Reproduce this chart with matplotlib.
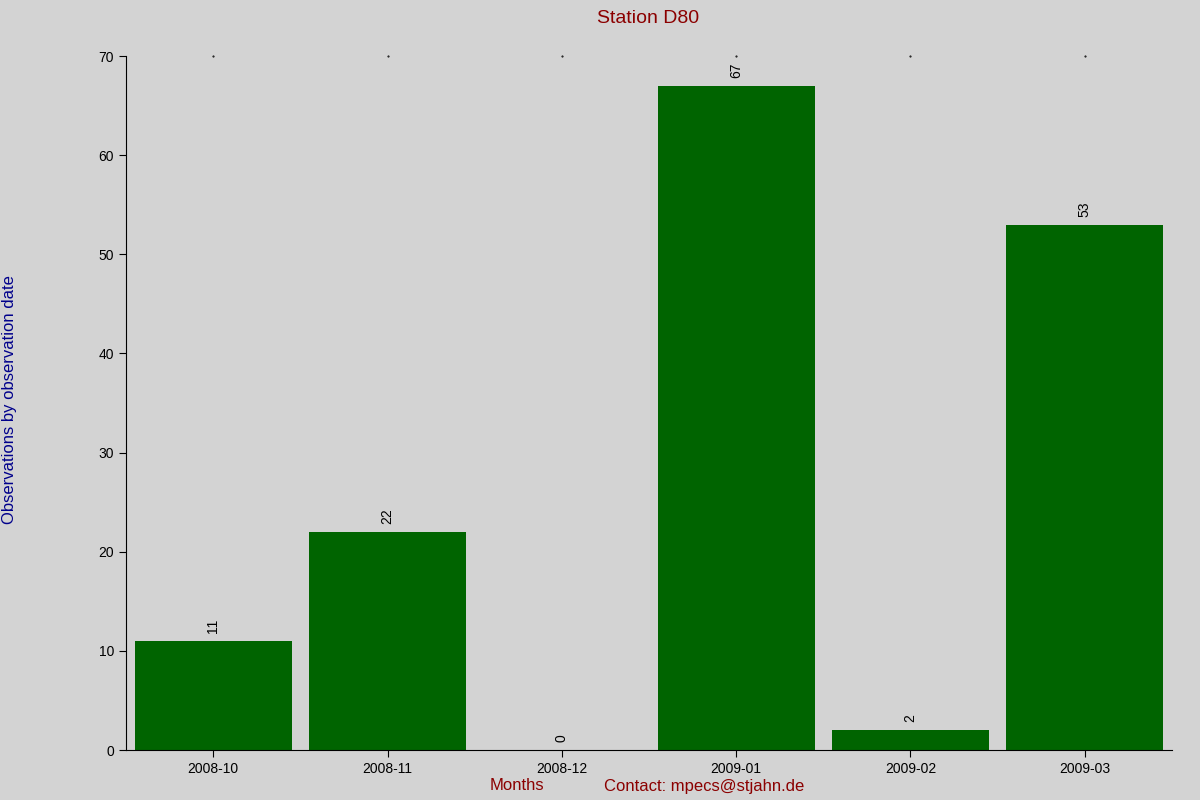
import matplotlib
matplotlib.use("Agg")
import matplotlib.pyplot as plt

months = ["2008-10", "2008-11", "2008-12", "2009-01", "2009-02", "2009-03"]
counts = [11, 22, 0, 67, 2, 53]

plt.rcParams['font.family'] = ['Liberation Sans', 'DejaVu Sans']
bg = "#d3d3d3"
fig = plt.figure(figsize=(12, 8), dpi=100, facecolor=bg)
ax = fig.add_axes([126/1200, 50/800, (1172-126)/1200, (750-56)/800], facecolor=bg)
x = list(range(len(months)))
bars = ax.bar(x, counts, width=0.9, color="#006400")
for xi, v in zip(x, counts):
    ax.text(xi, v + 0.8, str(v), rotation=90, ha="center", va="bottom", fontsize=10)
ax.set_xlim(-0.5, len(months) - 0.5)
ax.set_ylim(0, 70)
ax.set_yticks(range(0, 71, 10))
ax.set_xticks(x)
ax.set_xticklabels(months)
ax.tick_params(labelsize=10, length=5)
for s in ["top", "right"]:
    ax.spines[s].set_visible(False)
for xi in x:
    ax.plot(xi, 70, marker='.', markersize=1, color='black', clip_on=False)
fig.text(0.54, 0.977, "Station D80", ha="center", va="center", fontsize=14, color="#8b0000")
fig.text(10/1200, 0.5, "Observations by observation date", rotation=90, ha="center", va="center",
         fontsize=12, color="#00008b")
fig.text(517/1200, 14/800, "Months", ha="center", va="center", fontsize=12, color="#8b0000")
fig.text(704/1200, 14/800, "Contact: mpecs@stjahn.de", ha="center", va="center", fontsize=12, color="#8b0000")
fig.savefig("out.png", dpi=100, facecolor=bg)
